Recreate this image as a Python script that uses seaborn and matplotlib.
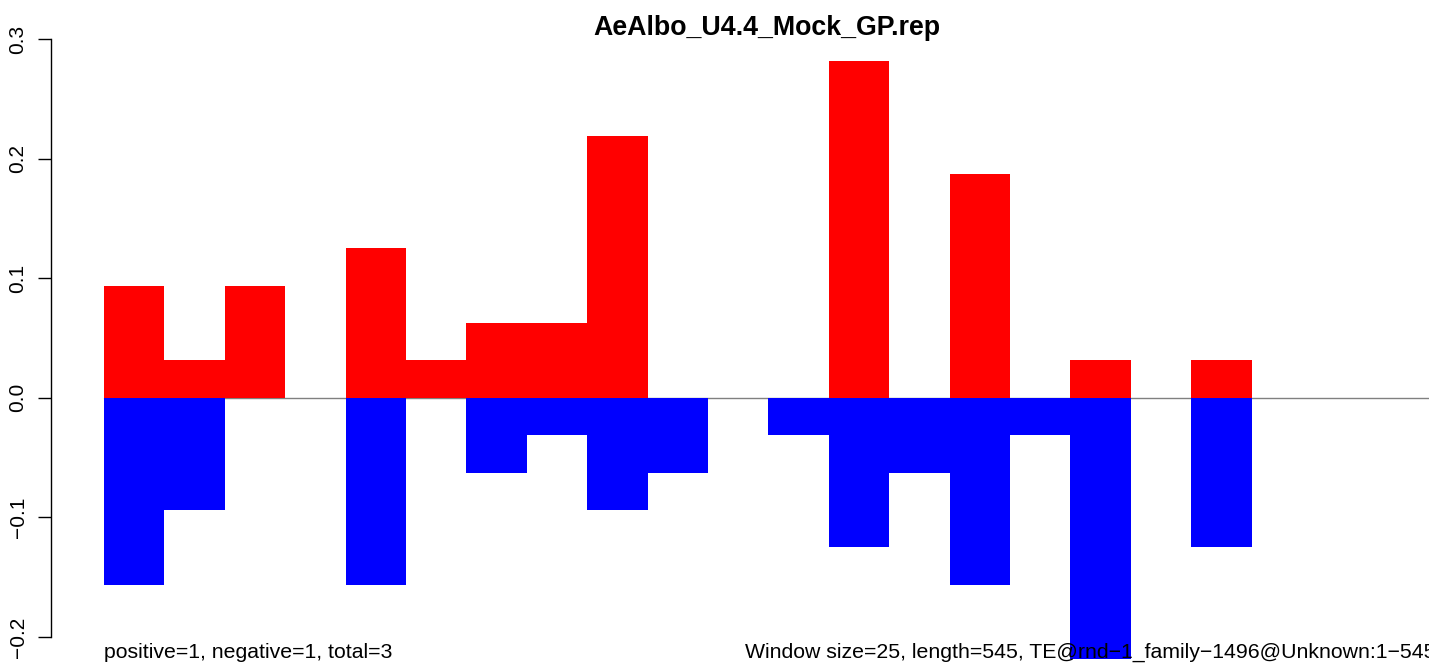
import numpy as np
import pandas as pd
import matplotlib
matplotlib.use("Agg")
import matplotlib.pyplot as plt
import seaborn as sns

# per-window fractions (counts / 32), 22 windows of 25 bp over 545 bp
windows = list(range(22))
positive = [3, 1, 3, 0, 4, 1, 2, 2, 7, 0, 0, 0, 9, 0, 6, 0, 1, 0, 1, 0, 0, 0]
negative = [5, 3, 0, 0, 5, 0, 2, 1, 3, 2, 0, 1, 4, 2, 5, 1, 7, 0, 4, 0, 0, 0]
scale = 32.0
title = "AeAlbo_U4.4_Mock_GP.rep"
left_note = "positive=1, negative=1, total=3"
right_note = "Window size=25, length=545, TE@rnd\u22121_family\u22121496@Unknown:1\u2212545"
yticks = [-0.2, -0.1, 0.0, 0.1, 0.2, 0.3]

df = pd.DataFrame({
    "window": windows,
    "pos": np.array(positive) / scale,
    "neg": -np.array(negative) / scale,
})

sns.set_style("white")
plt.rcParams["font.family"] = ["Liberation Sans", "DejaVu Sans"]
plt.rcParams["text.color"] = "black"
plt.rcParams["ytick.color"] = "black"
plt.rcParams["ytick.labelcolor"] = "black"

fig = plt.figure(figsize=(14.29, 6.64), dpi=100)
ax = fig.add_axes([51 / 1429, 0, 1 - 51 / 1429, 1])

ax.plot([-0.5, 30], [0, 0], color="#808080", lw=1.0, zorder=0)
sns.barplot(data=df, x="window", y="pos", color="#ff0000", width=1.0,
            saturation=1, linewidth=0, ax=ax, zorder=2)
sns.barplot(data=df, x="window", y="neg", color="#0000ff", width=1.0,
            saturation=1, linewidth=0, ax=ax, zorder=2)

# pixel mapping: 0.3 -> y=39, -0.2 -> y=637
ppu = (637 - 39) / 0.5
ax.set_ylim(-0.2 - 27 / ppu, 0.3 + 39 / ppu)
bw = 60.4
ax.set_xlim(-0.5 - (104 - 51) / bw, -0.5 + (1429 - 104) / bw)

for s in ["top", "right", "bottom"]:
    ax.spines[s].set_visible(False)
ax.spines["left"].set_bounds(-0.2, 0.3)
ax.spines["left"].set_color("black")
ax.spines["left"].set_linewidth(1.0)
ax.set_yticks(yticks)
ax.set_yticklabels([f"{t:.1f}".replace("-", "\u2212") for t in yticks],
                   rotation=90, va="center", fontsize=15, color="black")
ax.tick_params(axis="y", left=True, length=9.4, width=1.0, pad=7.5, color="black")
ax.set_xticks([])
ax.set_xlabel("")
ax.set_ylabel("")

fig.text(767 / 1429, 1 - 28 / 664, title, ha="center", va="center",
         fontsize=19.3, fontweight="bold", color="black")
ax.text(-0.5, -0.2 - 21 / ppu, left_note, ha="left", va="baseline", fontsize=15.3,
        color="black")
ax.text(21.55, -0.2 - 21 / ppu, right_note, ha="right", va="baseline", fontsize=15.3,
        color="black", clip_on=False)

fig.savefig("out.png", dpi=100)
